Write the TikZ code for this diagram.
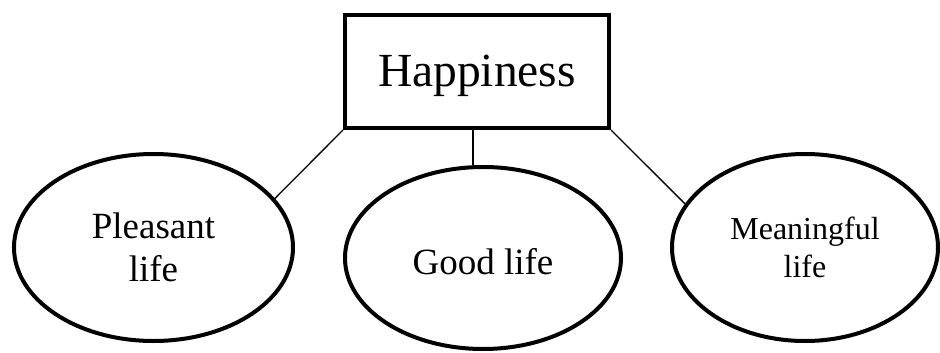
\documentclass[tikz,border=0pt]{standalone}
\usepackage{fontspec}
\setmainfont{Liberation Serif}
\usetikzlibrary{shapes.geometric}

\begin{document}
\begin{tikzpicture}[
    x=1pt, y=-1pt,
    box/.style={rectangle, draw, line width=4pt, minimum width=264pt,
                minimum height=113pt, inner sep=0pt,
                font=\fontsize{47.5}{52}\selectfont},
    oval/.style={ellipse, draw, line width=4pt, inner sep=0pt, align=center,
                 font=\fontsize{37}{43}\selectfont},
    link/.style={line width=1.3pt}
]
\useasboundingbox (0,0) rectangle (940,353);

% Top node
\node[box] (hap) at (477,71.5) {\raisebox{-4pt}[\height][\depth]{Happiness}};

% Ellipses
\node[oval, minimum width=279pt, minimum height=187pt] (pleasant) at (153.5,247.5) {Pleasant\\life};
\node[oval, minimum width=276pt, minimum height=182pt] (good) at (483,258) {\raisebox{-4pt}[\height][\depth]{Good life}};
\node[oval, minimum width=266pt, minimum height=187pt,
      font=\fontsize{32}{38}\selectfont] (meaning) at (805,247.5) {Meaningful\\life};

% Connectors
\draw[link] (hap.south west) -- (pleasant.22);
\draw[link] (hap.south -| 473,0) -- (good.north -| 473,0);
\draw[link] (hap.south east) -- (meaning.160);

\end{tikzpicture}
\end{document}
